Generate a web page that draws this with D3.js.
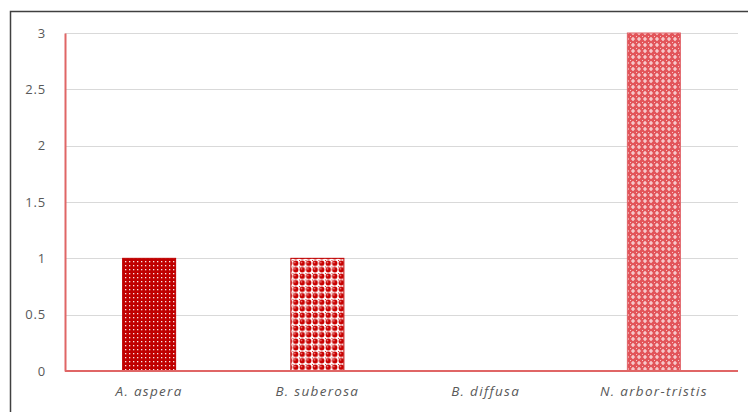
<!DOCTYPE html>
<html>
<head>
<meta charset="utf-8">
<script src="https://cdn.jsdelivr.net/npm/d3@7"></script>
<style>
  html, body { margin: 0; padding: 0; background: #fff; }
  svg { display: block; }
  .tick text { font-family: "Open Sans", "Noto Sans", sans-serif; font-size: 13px; fill: #595959; letter-spacing: 0.8px; }
  .cat .tick text { font-style: italic; letter-spacing: 1.3px; }
</style>
</head>
<body>
<svg id="chart" width="750" height="412"></svg>
<script>
// Species and counts
const categories = ["A. aspera", "B. suberosa", "B. diffusa", "N. arbor-tristis"];
const counts = [1, 1, 0, 3];
const yTicks = [0, 0.5, 1, 1.5, 2, 2.5, 3];
const yTickLabels = ["0", "0.5", "1", "1.5", "2", "2.5", "3"];
const patternIds = ["pat-dots", "pat-spheres", "pat-none", "pat-lattice"];

const svg = d3.select("#chart");
const W = 750, H = 412;
const margin = { left: 65, right: 12, top: 33, bottom: 41 };

// Frame around the chart area (left and top edges visible)
svg.append("path")
  .attr("d", `M10.5,${H} L10.5,11.5 L748,11.5`)
  .attr("fill", "none")
  .attr("stroke", "#404040")
  .attr("stroke-width", 1.5);

// Fill patterns
const defs = svg.append("defs");

// Fine white dots on dark red
const p1 = defs.append("pattern").attr("id", "pat-dots")
  .attr("patternUnits", "userSpaceOnUse").attr("width", 4).attr("height", 4);
p1.append("rect").attr("width", 4).attr("height", 4).attr("fill", "#c00000");
p1.append("rect").attr("x", 1).attr("y", 1).attr("width", 1.3).attr("height", 1.3).attr("fill", "#ffffff").attr("opacity", 0.9);

// Shaded spheres on a grid
const p2 = defs.append("pattern").attr("id", "pat-spheres")
  .attr("patternUnits", "userSpaceOnUse").attr("width", 6.5).attr("height", 6.5);
p2.append("rect").attr("width", 6.5).attr("height", 6.5).attr("fill", "#ffffff");
p2.append("circle").attr("cx", 3.25).attr("cy", 3.25).attr("r", 2.7).attr("fill", "#c80000");
p2.append("circle").attr("cx", 2.4).attr("cy", 2.4).attr("r", 0.8).attr("fill", "#f29a9a");
p2.append("rect").attr("x", 0).attr("y", 0).attr("width", 1).attr("height", 1).attr("fill", "#d83030");

// Light red lattice of small crosses
const p3 = defs.append("pattern").attr("id", "pat-lattice")
  .attr("patternUnits", "userSpaceOnUse").attr("width", 6).attr("height", 6);
p3.append("rect").attr("width", 6).attr("height", 6).attr("fill", "#e2555a");
p3.append("path").attr("d", "M3,1 v4 M1,3 h4").attr("stroke", "#ffffff").attr("stroke-width", 1.2).attr("opacity", 0.85);
p3.append("rect").attr("x", 0).attr("y", 0).attr("width", 1).attr("height", 1).attr("fill", "#f6c4c6");

const x = d3.scaleBand()
  .domain(categories)
  .range([margin.left, W - margin.right])
  .paddingInner(0.685)
  .paddingOuter(0.3425);

const y = d3.scaleLinear()
  .domain([0, 3])
  .range([H - margin.bottom, margin.top]);

// Horizontal gridlines
svg.append("g")
  .selectAll("line")
  .data(yTicks.filter(d => d > 0))
  .join("line")
  .attr("x1", margin.left)
  .attr("x2", W - margin.right)
  .attr("y1", d => Math.round(y(d)) + 0.5)
  .attr("y2", d => Math.round(y(d)) + 0.5)
  .attr("stroke", "#d9d9d9")
  .attr("stroke-width", 1);

// Bars
svg.append("g")
  .selectAll("rect")
  .data(categories.map((c, i) => ({ c, v: counts[i], p: patternIds[i] })).filter(d => d.v > 0))
  .join("rect")
  .attr("x", d => x(d.c))
  .attr("width", x.bandwidth())
  .attr("y", d => y(d.v))
  .attr("height", d => y(0) - y(d.v))
  .attr("fill", d => `url(#${d.p})`)
  .attr("stroke", d => d.p === "pat-lattice" ? "#e06066" : "#c00000")
  .attr("stroke-width", 1);

// Y axis
const yAxis = svg.append("g")
  .attr("transform", `translate(${margin.left},0)`)
  .call(d3.axisLeft(y).tickValues(yTicks).tickFormat((d, i) => yTickLabels[i]).tickSize(0).tickPadding(19));
yAxis.select(".domain").attr("stroke", "#e06666").attr("stroke-width", 2);

// X axis
const xAxis = svg.append("g")
  .attr("class", "cat")
  .attr("transform", `translate(0,${y(0)})`)
  .call(d3.axisBottom(x).tickSize(0).tickPadding(15));
xAxis.select(".domain").attr("stroke", "#e06666").attr("stroke-width", 2)
  .attr("d", `M${margin.left},0H${W - margin.right}`);
xAxis.selectAll(".tick text").style("font-size", "13.5px");
</script>
</body>
</html>
